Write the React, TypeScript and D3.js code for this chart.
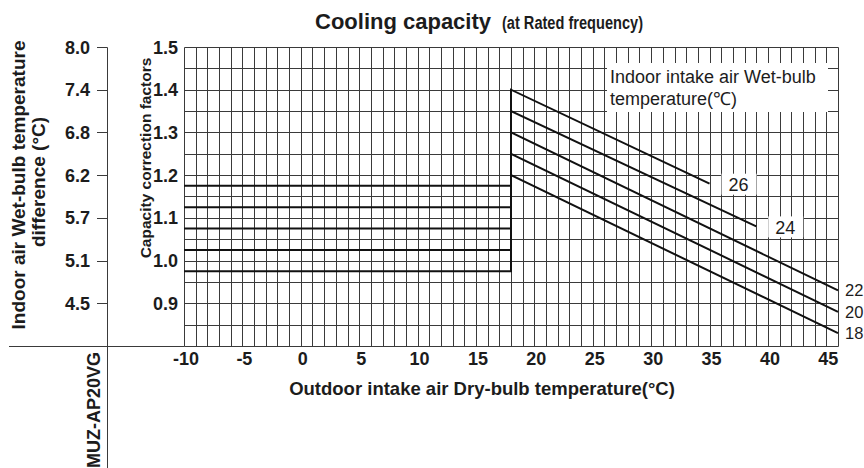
import React, { useRef, useEffect } from 'react';
import * as d3 from 'd3';

// outdoor dry-bulb axis
const xTickValues = [-10, -5, 0, 5, 10, 15, 20, 25, 30, 35, 40, 45];
// capacity correction factor axis
const yTickValues = [0.9, 1.0, 1.1, 1.2, 1.3, 1.4, 1.5];
const yTickLabels = ['0.9', '1.0', '1.1', '1.2', '1.3', '1.4', '1.5'];
// secondary axis: wet-bulb temperature difference, paired with factor ticks
const wbDiffLabels = ['4.5', '5.1', '5.7', '6.2', '6.8', '7.4', '8.0'];

// indoor wet-bulb curves
const wbTemps = ['26', '24', '22', '20', '18'];
const flatFactors = [1.175, 1.125, 1.075, 1.025, 0.975];
const kneeTemp = 18;
const startFactors = [1.4, 1.35, 1.3, 1.25, 1.2];
const endTemps = [35, 39, 46, 46, 46];
const endFactors = [1.18, 1.08, 0.93, 0.88, 0.83];

const FONT = '"Liberation Sans", Arial, Helvetica, sans-serif';
const INK = '#1c1c1c';

const CoolingChart = () => {
  const svgRef = useRef<SVGSVGElement>(null);

  useEffect(() => {
    const width = 864;
    const height = 468;
    const svg = d3.select(svgRef.current)
      .attr('width', width)
      .attr('height', height)
      .style('background', 'white');

    svg.selectAll('*').remove();

    const x = d3.scaleLinear().domain([-10, 46]).range([184, 838]);
    const y = d3.scaleLinear().domain([0.8, 1.5]).range([346, 47]);
    const px = (v: number) => Math.round(x(v)) + 0.5;
    const py = (v: number) => Math.round(y(v)) + 0.5;

    const g = svg.append('g');

    // grid
    const grid = g.append('g').attr('stroke', '#3a3a3a').attr('stroke-width', 1);
    grid.selectAll('line.v')
      .data(d3.range(-10, 47, 1))
      .enter()
      .append('line')
      .attr('x1', d => px(d))
      .attr('x2', d => px(d))
      .attr('y1', py(1.5))
      .attr('y2', py(0.8));
    grid.selectAll('line.h')
      .data(d3.range(0, 15).map(i => 0.8 + i * 0.05))
      .enter()
      .append('line')
      .attr('x1', px(-10))
      .attr('x2', px(46))
      .attr('y1', d => py(d))
      .attr('y2', d => py(d));

    // secondary axis frame
    const yBottom = py(0.8);
    g.append('line')
      .attr('x1', 9).attr('x2', px(-10))
      .attr('y1', yBottom).attr('y2', yBottom)
      .attr('stroke', '#3a3a3a');
    g.append('line')
      .attr('x1', 107.5).attr('x2', 107.5)
      .attr('y1', py(1.5)).attr('y2', height)
      .attr('stroke', '#3a3a3a');

    g.selectAll('line.wbtick')
      .data(yTickValues)
      .enter()
      .append('line')
      .attr('x1', 97).attr('x2', 107.5)
      .attr('y1', d => py(d)).attr('y2', d => py(d))
      .attr('stroke', '#3a3a3a');

    g.selectAll('text.wbdiff')
      .data(yTickValues)
      .enter()
      .append('text')
      .attr('x', 90)
      .attr('y', d => y(d) + 6.5)
      .attr('text-anchor', 'end')
      .attr('font-family', FONT)
      .attr('font-weight', 'bold')
      .attr('font-size', 18)
      .attr('fill', INK)
      .text((d, i) => wbDiffLabels[i]);

    g.selectAll('text.ytick')
      .data(yTickValues)
      .enter()
      .append('text')
      .attr('x', 178)
      .attr('y', d => y(d) + 6.5)
      .attr('text-anchor', 'end')
      .attr('font-family', FONT)
      .attr('font-weight', 'bold')
      .attr('font-size', 18)
      .attr('fill', INK)
      .text((d, i) => yTickLabels[i]);

    g.selectAll('text.xtick')
      .data(xTickValues)
      .enter()
      .append('text')
      .attr('x', d => x(d) + 2)
      .attr('y', 365)
      .attr('text-anchor', 'middle')
      .attr('font-family', FONT)
      .attr('font-weight', 'bold')
      .attr('font-size', 18)
      .attr('fill', INK)
      .text(d => String(d));

    // curves
    const line = d3.line<[number, number]>()
      .x(d => x(d[0]))
      .y(d => y(d[1]));

    g.append('g')
      .selectAll('path')
      .data(wbTemps.map((t, i) => [
        [-10, flatFactors[i]],
        [kneeTemp, flatFactors[i]],
        [kneeTemp, startFactors[i]],
        [endTemps[i], endFactors[i]],
      ] as [number, number][]))
      .enter()
      .append('path')
      .attr('d', d => line(d))
      .attr('fill', 'none')
      .attr('stroke', '#111')
      .attr('stroke-width', 2);

    // curve labels
    wbTemps.forEach((t, i) => {
      if (endTemps[i] < 46) {
        const cx = x(endTemps[i]) + 29;
        const cy = y(endFactors[i]) + 1;
        g.append('rect')
          .attr('x', cx - 17).attr('y', cy - 11)
          .attr('width', 35).attr('height', 21)
          .attr('fill', 'white');
        g.append('text')
          .attr('x', cx).attr('y', cy + 6.5)
          .attr('text-anchor', 'middle')
          .attr('font-family', FONT)
          .attr('font-size', 18)
          .attr('fill', INK)
          .text(t);
      } else {
        g.append('text')
          .attr('x', x(46) + 7).attr('y', y(endFactors[i]) + 6)
          .attr('font-family', FONT)
          .attr('font-size', 16.5)
          .attr('fill', INK)
          .text(t);
      }
    });

    // legend box
    g.append('rect')
      .attr('x', 607).attr('y', 63)
      .attr('width', 221).attr('height', 49)
      .attr('fill', 'white');
    const legend = g.append('text')
      .attr('font-family', FONT)
      .attr('font-size', 18)
      .attr('fill', INK);
    legend.append('tspan').attr('x', 610).attr('y', 83).text('Indoor intake air Wet-bulb');
    legend.append('tspan').attr('x', 610).attr('y', 105).text('temperature(\u2103)');

    // titles
    g.append('text')
      .attr('x', 315).attr('y', 29)
      .attr('font-family', FONT)
      .attr('font-weight', 'bold')
      .attr('font-size', 22)
      .attr('fill', INK)
      .text('Cooling capacity');
    g.append('text')
      .attr('x', 502).attr('y', 29)
      .attr('font-family', FONT)
      .attr('font-weight', 'bold')
      .attr('font-size', 17.5)
      .attr('textLength', 141)
      .attr('lengthAdjust', 'spacingAndGlyphs')
      .attr('fill', INK)
      .text('(at Rated frequency)');

    g.append('text')
      .attr('x', 482).attr('y', 395)
      .attr('text-anchor', 'middle')
      .attr('font-family', FONT)
      .attr('font-weight', 'bold')
      .attr('font-size', 18.5)
      .attr('fill', INK)
      .text('Outdoor intake air Dry-bulb temperature(°C)');

    const rotated = (tx: number, ty: number, size: number, label: string, anchor = 'middle') =>
      g.append('text')
        .attr('transform', `translate(${tx}, ${ty}) rotate(-90)`)
        .attr('text-anchor', anchor)
        .attr('font-family', FONT)
        .attr('font-weight', 'bold')
        .attr('font-size', size)
        .attr('fill', INK)
        .text(label);

    rotated(25, 185, 19, 'Indoor air Wet-bulb temperature');
    rotated(45, 182, 19, 'difference (°C)');
    rotated(151, 158, 15.5, 'Capacity correction factors');
    rotated(100, 352, 18, 'MUZ-AP20VG', 'end');
  }, []);

  return (
    <svg
      ref={svgRef}
      style={{ position: 'absolute', left: 0, top: 0, display: 'block' }}
    ></svg>
  );
};

export default function App() {
  return <CoolingChart />;
}
